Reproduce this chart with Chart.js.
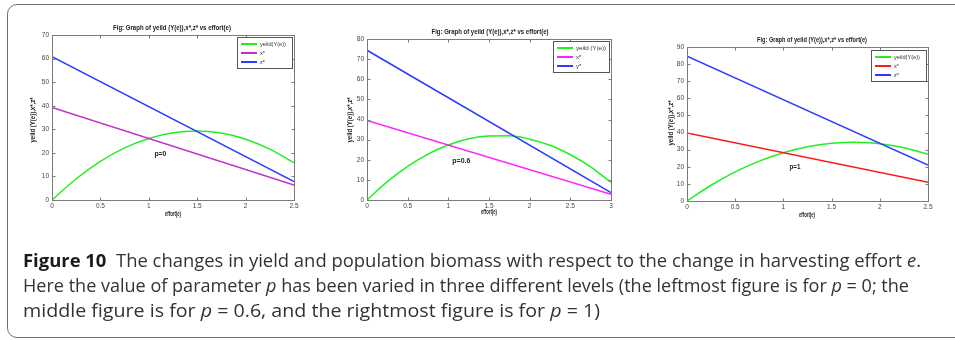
<!DOCTYPE html>
<html><head><meta charset="utf-8">
<script src="https://cdn.jsdelivr.net/npm/chart.js@4"></script>
<style>
html,body{margin:0;padding:0;background:#fff;}
#wrap{position:relative;width:955px;height:340px;overflow:hidden;background:#fff;}
.cv{position:absolute;left:0;top:0;}
#frame{position:absolute;left:7px;top:4px;width:1000px;height:334px;border:1.5px solid #707070;border-radius:10px;box-sizing:border-box;}
.cap{position:absolute;left:23px;white-space:nowrap;font-family:'Open Sans',sans-serif;font-size:18px;color:#333;transform-origin:0 0;line-height:18px;}
.cap b{color:#1a1a1a;font-weight:700;}
</style></head>
<body><div id="wrap"><div id="frame"></div>
<canvas id="c1" class="cv" width="955" height="340"></canvas>
<canvas id="c2" class="cv" width="955" height="340"></canvas>
<canvas id="c3" class="cv" width="955" height="340"></canvas>
<div class="cap" id="l1" style="top:251px"><b>Figure 10</b>&nbsp; The changes in yield and population biomass with respect to the change in harvesting effort <i>e</i>.</div>
<div class="cap" id="l2" style="top:276px">Here the value of parameter <i>p</i> has been varied in three different levels (the leftmost figure is for <i>p</i> = 0; the</div>
<div class="cap" id="l3" style="top:301px">middle figure is for <i>p</i> = 0.6, and the rightmost figure is for <i>p</i> = 1)</div>
</div>
<script>
// ---- data ----
const effort1 = [0,0.25,0.5,0.75,1,1.25,1.5,1.75,2,2.25,2.5];
const yield1  = [0,9.0,16.4,22.1,26.1,28.5,29.3,28.4,25.8,21.6,15.8];
const lineE1  = [0,2.5];
const xStar1  = [39.3,6.3];
const zStar1  = [60.8,7.8];

const effort2 = [0,0.25,0.5,0.75,1,1.25,1.5,1.75,2,2.25,2.5,2.75,3];
const yield2  = [0,9.1,16.7,22.8,27.3,30.4,31.8,31.9,30.2,27.2,22.5,16.5,8.7];
const lineE2  = [0,3];
const xStar2  = [39.5,2.9];
const yStar2  = [74.4,3.7];

const effort3 = [0,0.25,0.5,0.75,1,1.25,1.5,1.75,2,2.25,2.5];
const yield3  = [0,9.2,17.0,23.3,28.2,31.7,33.7,34.3,33.4,31.1,27.3];
const lineE3  = [0,2.5];
const xStar3  = [39.8,10.9];
const zStar3  = [84.6,21.0];

const legend1 = ['yeild(Y(e))','x*','z*'];
const legend2 = ['yeild (Y(e))','x*','y*'];
const legend3 = ['yeild(Y(e))','x*','z*'];
const pLabels = ['p=0','p=0.6','p=1'];
const pPos = [[1.12,19.5],[1.16,19.5],[1.12,20]];
const xMaxes = [2.5,3,2.5];
const yMaxes = [70,80,90];
const titleText = 'Fig: Graph of yeild (Y(e)),x*,z* vs effort(e)';
const xTitle = 'effort(e)';
const yTitle = 'yeild (Y(e)),x*,z*';

const pts = (xs, ys) => xs.map((x,i)=>({x:x,y:ys[i]}));

// ---- layout (pixels) ----
const layoutCfg = [
  {L:52,R:294,T:35,B:200, title:[172,28,118], xl:[173,214,16], yl:[33,120,45], leg:[237,37,55,31], legW:26, pW:12},
  {L:367,R:611,T:39,B:200, title:[490,32,117], xl:[489,212,16], yl:[350,120,45], leg:[553,41,56,31], legW:30, pW:18},
  {L:687,R:928,T:47,B:201, title:[812,40,110], xl:[807,215,16], yl:[671,123,45], leg:[871,50,55,31], legW:26, pW:11}
];
const FONT = "'Liberation Sans', Arial, sans-serif";

function fitText(ctx, text, x, y, w, font, color, align, rot){
  ctx.save();
  ctx.font = font; ctx.fillStyle = color; ctx.textBaseline = 'middle';
  const m = ctx.measureText(text).width;
  const sx = w ? w/m : 1;
  ctx.translate(x,y);
  if (rot) ctx.rotate(rot);
  ctx.scale(sx,1);
  ctx.textAlign = align || 'center';
  ctx.fillText(text,0,0);
  ctx.restore();
}

const decor = {
  id:'decor',
  afterDatasetsDraw(chart, args, o){
    const ctx = chart.ctx, ca = chart.chartArea;
    const L = Math.round(ca.left)+0.5, R = Math.round(ca.right)+0.5, T = Math.round(ca.top)+0.5, B = Math.round(ca.bottom)+0.5;
    const xs = chart.scales.x, ys = chart.scales.y;
    ctx.save();
    ctx.strokeStyle = '#7a7a7a'; ctx.lineWidth = 1;
    ctx.strokeRect(L, T, R-L, B-T);
    ctx.beginPath();
    xs.ticks.forEach(t=>{ const p = Math.round(xs.getPixelForValue(t.value))+0.5; ctx.moveTo(p,B); ctx.lineTo(p,B-3); ctx.moveTo(p,T); ctx.lineTo(p,T+3); });
    ys.ticks.forEach(t=>{ const p = Math.round(ys.getPixelForValue(t.value))+0.5; ctx.moveTo(L,p); ctx.lineTo(L+3,p); ctx.moveTo(R,p); ctx.lineTo(R-3,p); });
    ctx.stroke();
    const c = o.cfg;
    fitText(ctx, titleText, c.title[0], c.title[1], c.title[2], 'bold 7px '+FONT, '#222');
    fitText(ctx, xTitle, c.xl[0], c.xl[1], c.xl[2], 'bold 7px '+FONT, '#222');
    fitText(ctx, yTitle, c.yl[0], c.yl[1], c.yl[2], 'bold 7px '+FONT, '#222', 'center', -Math.PI/2);
    // p label placed in data coordinates
    fitText(ctx, o.pText, xs.getPixelForValue(o.pAt[0]), ys.getPixelForValue(o.pAt[1]), c.pW, 'bold 7px '+FONT, '#222');
    // legend
    const [bx,by,bw,bh] = c.leg;
    ctx.fillStyle = '#fff'; ctx.fillRect(bx,by,bw,bh);
    ctx.strokeStyle = '#555'; ctx.lineWidth = 1;
    ctx.strokeRect(bx+0.5,by+0.5,bw,bh);
    ctx.font = '6px '+FONT;
    const ds = chart.data.datasets;
    const sx = c.legW / ctx.measureText(ds[0].label).width;
    ds.forEach((d,i)=>{
      const yy = by + 7 + i*9;
      ctx.strokeStyle = d.borderColor; ctx.lineWidth = 2;
      ctx.beginPath(); ctx.moveTo(bx+4,yy); ctx.lineTo(bx+20,yy); ctx.stroke();
      ctx.save(); ctx.translate(bx+23,yy); ctx.scale(sx,1);
      ctx.fillStyle = '#333'; ctx.textBaseline='middle'; ctx.textAlign='left';
      ctx.fillText(d.label,0,0); ctx.restore();
    });
    ctx.restore();
  }
};

const plainNum = (v) => String(Math.round(v*100)/100);

function makeChart(idx, id, series){
  const c = layoutCfg[idx];
  const yW = 20, xH = 12;
  const n = series.length;
  new Chart(document.getElementById(id), {
    type:'line',
    data:{ datasets: series.map((s,i)=>({
      label:s.label, data:s.data, borderColor:s.color, backgroundColor:s.color,
      borderWidth:1.5, pointRadius:0, fill:false, order:n-i,
      cubicInterpolationMode: s.smooth ? 'monotone' : 'default'
    }))},
    options:{
      responsive:false, animation:false, devicePixelRatio:1,
      layout:{padding:{left:c.L-yW, right:955-c.R, top:c.T, bottom:340-c.B-xH}},
      plugins:{legend:{display:false}, tooltip:{enabled:false}, title:{display:false},
        decor:{cfg:c, pText:pLabels[idx], pAt:pPos[idx]}},
      scales:{
        x:{type:'linear', min:0, max:xMaxes[idx], grid:{display:false, drawTicks:false}, border:{display:false},
           ticks:{stepSize:0.5, autoSkip:false, maxRotation:0, padding:2, color:'#444', font:{family:FONT, size:6.5}, callback:plainNum},
           afterFit:(s)=>{s.height = xH;}},
        y:{min:0, max:yMaxes[idx], grid:{display:false, drawTicks:false}, border:{display:false},
           ticks:{stepSize:10, autoSkip:false, padding:3, color:'#444', font:{family:FONT, size:6.5}, callback:plainNum},
           afterFit:(s)=>{s.width = yW;}}
      }
    },
    plugins:[decor]
  });
}

makeChart(0,'c1',[
  {label:legend1[0], data:pts(effort1,yield1), color:'#22ee22', smooth:true},
  {label:legend1[1], data:pts(lineE1,xStar1), color:'#c030c8'},
  {label:legend1[2], data:pts(lineE1,zStar1), color:'#2a3cff'}
]);
makeChart(1,'c2',[
  {label:legend2[0], data:pts(effort2,yield2), color:'#22ee22', smooth:true},
  {label:legend2[1], data:pts(lineE2,xStar2), color:'#ff22ff'},
  {label:legend2[2], data:pts(lineE2,yStar2), color:'#2a3cff'}
]);
makeChart(2,'c3',[
  {label:legend3[0], data:pts(effort3,yield3), color:'#22ee22', smooth:true},
  {label:legend3[1], data:pts(lineE3,xStar3), color:'#ff1a1a'},
  {label:legend3[2], data:pts(lineE3,zStar3), color:'#2a3cff'}
]);

// caption line widths fitted to the reference
const capTargets = {l1:898, l2:886, l3:577};
function fitCaps(){
  Object.keys(capTargets).forEach(k=>{
    const el = document.getElementById(k);
    el.style.transform = 'none';
    const w = el.getBoundingClientRect().width;
    el.style.transform = 'scaleX(' + (capTargets[k]/w) + ')';
  });
}
fitCaps();
if (document.fonts && document.fonts.ready) document.fonts.ready.then(fitCaps);
</script>
</body></html>
